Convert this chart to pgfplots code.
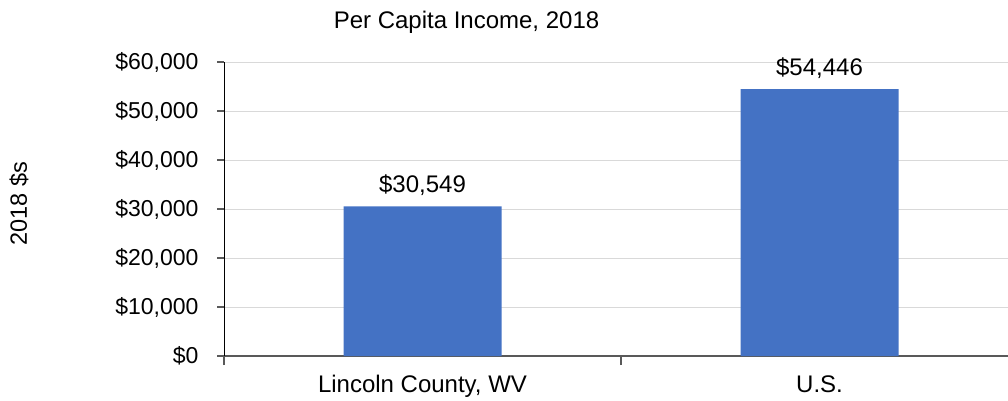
\documentclass[border=0pt]{standalone}
\usepackage{pgfplots}
\pgfplotsset{compat=1.18}
\usepackage{fontspec}
\setmainfont{Liberation Sans}
\definecolor{barblue}{HTML}{4472C4}
\definecolor{gridgray}{HTML}{D9D9D9}
\definecolor{axisgray}{HTML}{595959}
\begin{document}
\begin{tikzpicture}[x=1pt,y=1pt]
\begin{axis}[
  at={(224pt,44pt)}, anchor=south west,
  scale only axis, width=784pt, height=294pt,
  xmin=-0.5, xmax=1.4748, ymin=0, ymax=60000,
  axis lines*=left,
  x axis line style={draw=axisgray, line width=1.2pt},
  y axis line style={draw=black, line width=0.9pt},
  ytick={0,10000,...,60000},
  scaled y ticks=false,
  ymajorgrids, grid style={draw=gridgray, line width=1pt},
  tick align=outside,
  ytick style={draw=axisgray, line width=1.2pt},
  major tick length=7pt,
  yticklabel={\$\pgfmathprintnumber[fixed,precision=0,1000 sep={,}]{\tick}},
  xtick={0,1}, xticklabels={Lincoln County\char44{} WV, U.S.},
  major x tick style={draw=none},
  minor xtick={-0.5,0.5},
  minor x tick style={draw=axisgray, line width=1.2pt},
  minor tick length=9pt,
  yticklabel style={font=\fontsize{23}{27}\selectfont, xshift=-15pt},
  xticklabel style={font=\fontsize{24}{28}\selectfont, yshift=-9pt},
  /pgf/number format/assume math mode=true,
  clip=false,
]
\addplot[ybar, bar width=158pt, fill=barblue, draw=none,
  nodes near coords={\$\pgfmathprintnumber[fixed,precision=0,1000 sep={,}]{\pgfplotspointmeta}},
  every node near coord/.append style={font=\fontsize{24}{28}\selectfont, anchor=base, yshift=14pt, text=black},
] coordinates {(0,30549) (1,54446)};
\end{axis}
\node[font=\fontsize{24}{28}\selectfont, anchor=base] at (466.5pt,371pt) {Per Capita Income, 2018};
\node[font=\fontsize{23.5}{27}\selectfont, rotate=90, anchor=center] at (19pt,196.5pt) {2018 \$s};
\pgfresetboundingbox
\path[use as bounding box] (0pt,0pt) rectangle (1008pt,400pt);
\end{tikzpicture}
\end{document}
